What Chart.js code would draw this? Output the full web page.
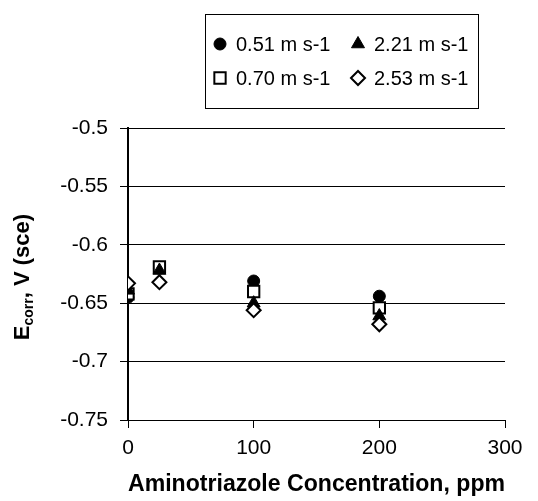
<!DOCTYPE html>
<html>
<head>
<meta charset="utf-8">
<script src="https://cdn.jsdelivr.net/npm/chart.js@4.4.0/dist/chart.umd.min.js"></script>
<style>
  html, body { margin: 0; padding: 0; background: #fff; }
  #wrap { position: relative; width: 538px; height: 501px; }
</style>
</head>
<body>
<div id="wrap"><canvas id="chart" width="538" height="501"></canvas></div>
<script>
// aminotriazole concentration, ppm
const concentrations = [0, 25, 100, 200];
// Ecorr (V vs SCE) for each flow velocity
const ecorr051 = [-0.645, -0.620, -0.631, -0.644];
const ecorr070 = [-0.642, -0.619, -0.640, -0.654];
const ecorr221 = [-0.639, -0.622, -0.650, -0.661];
const ecorr253 = [-0.633, -0.632, -0.656, -0.668];
const seriesNames = ['0.51 m s-1', '0.70 m s-1', '2.21 m s-1', '2.53 m s-1'];

const FONT = "'Liberation Sans', Arial, sans-serif";

function points(vals) {
    return concentrations.map((c, i) => ({x: c, y: vals[i]}));
}

const datasets = [
    {label: seriesNames[0], data: points(ecorr051), pointStyle: 'circle', pointRadius: 6,
     backgroundColor: '#000', borderColor: '#000', borderWidth: 1, order: 4},
    {label: seriesNames[1], data: points(ecorr070), pointStyle: 'rect', pointRadius: 8,
     backgroundColor: '#fff', borderColor: '#000', borderWidth: 2, order: 3},
    {label: seriesNames[2], data: points(ecorr221), pointStyle: 'triangle', pointRadius: 7.5,
     backgroundColor: '#000', borderColor: '#000', borderWidth: 1, order: 2},
    {label: seriesNames[3], data: points(ecorr253), pointStyle: 'rectRot', pointRadius: 7,
     backgroundColor: '#fff', borderColor: '#000', borderWidth: 2, order: 1}
];

// boxed legend, two columns, read across rows
const boxLegend = {
    id: 'boxLegend',
    afterDraw(chart) {
        const ctx = chart.ctx;
        ctx.save();
        ctx.strokeStyle = '#000';
        ctx.lineWidth = 1;
        ctx.strokeRect(205.5, 14.5, 273, 94);
        const slots = [[0, 220, 44], [2, 358, 44], [1, 220, 78], [3, 358, 78]];
        ctx.font = '20px ' + FONT;
        ctx.textBaseline = 'middle';
        ctx.textAlign = 'left';
        slots.forEach(([i, x, y]) => {
            const ds = chart.data.datasets[i];
            ctx.fillStyle = ds.backgroundColor;
            ctx.strokeStyle = ds.borderColor;
            ctx.lineWidth = ds.borderWidth;
            Chart.helpers.drawPoint(ctx, {pointStyle: ds.pointStyle, radius: ds.pointRadius,
                borderWidth: ds.borderWidth, rotation: 0}, x, y);
            ctx.fillStyle = '#000';
            ctx.fillText(ds.label, x + 16, y + 1);
        });
        ctx.restore();
    }
};

// y title with subscript
const yTitle = {
    id: 'yTitle',
    afterDraw(chart) {
        const ctx = chart.ctx;
        const parts = [
            {t: 'E', f: 'bold 22px ' + FONT, dy: 0},
            {t: 'corr', f: 'bold 14px ' + FONT, dy: 6},
            {t: ', V (sce)', f: 'bold 22px ' + FONT, dy: 0}
        ];
        ctx.save();
        ctx.translate(23, 277);
        ctx.rotate(-Math.PI / 2);
        ctx.fillStyle = '#000';
        ctx.textBaseline = 'middle';
        let total = 0;
        parts.forEach(p => { ctx.font = p.f; p.w = ctx.measureText(p.t).width; total += p.w; });
        let x = -total / 2;
        parts.forEach(p => { ctx.font = p.f; ctx.fillText(p.t, x, p.dy); x += p.w; });
        ctx.restore();
    }
};

new Chart(document.getElementById('chart'), {
    type: 'scatter',
    data: {datasets: datasets},
    options: {
        responsive: false,
        animation: false,
        layout: {padding: {top: 128, right: 33, left: 0, bottom: 0}},
        plugins: {legend: {display: false}, tooltip: {enabled: false}},
        scales: {
            x: {
                type: 'linear', min: 0, max: 300,
                ticks: {stepSize: 100, color: '#000', font: {family: FONT, size: 21}, padding: 8},
                grid: {drawOnChartArea: false, color: '#000', tickLength: 8},
                border: {color: '#000', width: 1},
                title: {display: true, text: 'Aminotriazole Concentration, ppm', color: '#000',
                        font: {family: FONT, size: 24, weight: 'bold'}, padding: {top: 0, bottom: 2}},
                afterFit(s) { s.height = 81; }
            },
            y: {
                min: -0.75, max: -0.5,
                ticks: {stepSize: 0.05, color: '#000', font: {family: FONT, size: 21}, padding: 12,
                        callback: v => Number(v.toFixed(2)).toString()},
                grid: {color: '#000', lineWidth: 1, tickLength: 8},
                border: {color: '#000', width: 2},
                afterFit(s) { s.width = 128; }
            }
        }
    },
    plugins: [boxLegend, yTitle]
});
</script>
</body>
</html>
